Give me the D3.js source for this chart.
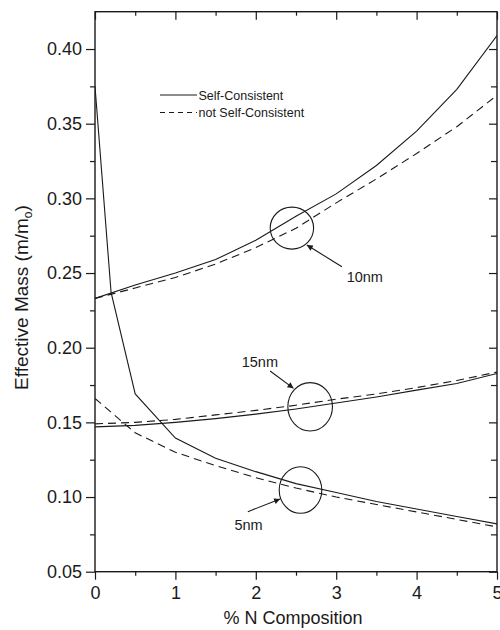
<!DOCTYPE html>
<html><head><meta charset="utf-8">
<script src="https://cdn.jsdelivr.net/npm/d3@7"></script>
<style>body{margin:0;background:#fff}svg{display:block}</style>
</head><body><svg id="c" width="500" height="630"></svg>
<script>
const xs = [0,0.5,1,1.5,2,2.5,3,3.5,4,4.5,5];
const xs5 = [0,0.2,0.5,1,1.5,2,2.5,3,3.5,4,4.5,5];
const sc10 = [0.233,0.242,0.250,0.259,0.272,0.288,0.303,0.322,0.345,0.373,0.409];
const nsc10 = [0.233,0.240,0.247,0.256,0.267,0.280,0.297,0.313,0.330,0.348,0.369];
const sc5 = [0.375,0.237,0.169,0.1395,0.126,0.117,0.109,0.103,0.097,0.092,0.087,0.082];
const nsc5 = [0.166,0.143,0.130,0.121,0.113,0.106,0.100,0.095,0.090,0.085,0.080];
const sc15 = [0.147,0.148,0.150,0.1525,0.1555,0.159,0.163,0.167,0.1716,0.176,0.1827];
const nsc15 = [0.149,0.150,0.152,0.155,0.158,0.1615,0.1655,0.169,0.1733,0.178,0.1837];
const xMajor = [0,1,2,3,4,5];
const xMinor = [0.5,1.5,2.5,3.5,4.5];
const yMajor = [0.05,0.10,0.15,0.20,0.25,0.30,0.35,0.40];
const yMinor = [0.075,0.125,0.175,0.225,0.275,0.325,0.375,0.425];
const legendLabels = ["Self-Consistent","not Self-Consistent"];
const annLabels = ["10nm","15nm","5nm"];
const annCircle = [[2.449,0.2801],[2.676,0.1604],[2.556,0.1047]];
const annText = [[3.13,0.2441],[1.825,0.1873],[1.734,0.0779]];
const annFrom = [[3.071,0.2542],[2.178,0.1844],[1.901,0.0902]];
const annTo = [[2.635,0.2688],[2.469,0.1728],[2.303,0.0987]];

const svg = d3.select("#c");
const font = "'Liberation Sans', Arial, Helvetica, sans-serif";
const L=95, R=497, T=11.7, B=571.7;
const x = d3.scaleLinear().domain([0,5]).range([L,R]);
const y = d3.scaleLinear().domain([0.05,0.425]).range([B,T]);
const ink = "#1a1a1a";

svg.append("defs").append("marker").attr("id","ah").attr("viewBox","0 0 10 10")
  .attr("refX",10).attr("refY",5).attr("markerWidth",9).attr("markerHeight",6)
  .attr("markerUnits","userSpaceOnUse").attr("orient","auto")
  .append("path").attr("d","M0,0L10,5L0,10Z").attr("fill",ink);

function styleAxis(g){
  g.select(".domain").remove();
  g.selectAll("line").attr("stroke",ink).attr("stroke-width",1.2);
  g.selectAll("text").attr("font-family",font).attr("fill",ink);
}
// bottom
svg.append("g").attr("transform",`translate(0,${B})`)
  .call(d3.axisBottom(x).tickValues(xMajor).tickSize(8).tickPadding(7).tickFormat(d3.format("d")))
  .call(styleAxis).call(g=>g.selectAll("text").attr("font-size",18));
svg.append("g").attr("transform",`translate(0,${B})`)
  .call(d3.axisBottom(x).tickValues(xMinor).tickSize(4).tickFormat(""))
  .call(styleAxis);
// top
svg.append("g").attr("transform",`translate(0,${T})`)
  .call(d3.axisTop(x).tickValues(xMajor).tickSize(-8).tickFormat(""))
  .call(styleAxis);
svg.append("g").attr("transform",`translate(0,${T})`)
  .call(d3.axisTop(x).tickValues(xMinor).tickSize(-4).tickFormat(""))
  .call(styleAxis);
// left
svg.append("g").attr("transform",`translate(${L},0)`)
  .call(d3.axisLeft(y).tickValues(yMajor).tickSize(9).tickPadding(4).tickFormat(d3.format(".2f")))
  .call(styleAxis).call(g=>g.selectAll("text").attr("font-size",18));
svg.append("g").attr("transform",`translate(${L},0)`)
  .call(d3.axisLeft(y).tickValues(yMinor.filter(v=>v<0.42)).tickSize(5).tickFormat(""))
  .call(styleAxis);
// right
svg.append("g").attr("transform",`translate(${R},0)`)
  .call(d3.axisRight(y).tickValues(yMajor).tickSize(-8).tickFormat(""))
  .call(styleAxis);
svg.append("g").attr("transform",`translate(${R},0)`)
  .call(d3.axisRight(y).tickValues(yMinor.filter(v=>v<0.42)).tickSize(-6).tickFormat(""))
  .call(styleAxis);
// frame
svg.append("rect").attr("x",L).attr("y",T).attr("width",R-L).attr("height",B-T)
  .attr("fill","none").attr("stroke",ink).attr("stroke-width",1.4);

// curves
const line = d3.line().x(d=>x(d[0])).y(d=>y(d[1]));
const series = [
  {xv:xs, yv:sc10, dash:null},
  {xv:xs, yv:nsc10, dash:"8,5"},
  {xv:xs5, yv:sc5, dash:null},
  {xv:xs, yv:nsc5, dash:"8,5"},
  {xv:xs, yv:sc15, dash:null},
  {xv:xs, yv:nsc15, dash:"8,5"}
];
const clip = svg.append("clipPath").attr("id","pc").append("rect")
  .attr("x",L).attr("y",T).attr("width",R-L).attr("height",B-T);
svg.append("g").attr("clip-path","url(#pc)").selectAll("path").data(series).join("path")
  .attr("d",s=>line(s.xv.map((v,i)=>[v,s.yv[i]])))
  .attr("fill","none").attr("stroke",ink).attr("stroke-width",1.1)
  .attr("stroke-dasharray",s=>s.dash);

// legend
const lg = svg.append("g");
[0,1].forEach(i=>{
  const yy = 95 + i*17.5;
  lg.append("line").attr("x1",160).attr("x2",197).attr("y1",yy).attr("y2",yy)
    .attr("stroke",ink).attr("stroke-width",1.1).attr("stroke-dasharray",i?"5,4":null);
  lg.append("text").attr("x",198.5).attr("y",yy+4.5).text(legendLabels[i])
    .attr("font-family",font).attr("font-size",12.5).attr("fill",ink);
});

// annotations
const rx = [21.7,22.3,21.3], ry = [21,24.2,23.3];
annLabels.forEach((lab,i)=>{
  svg.append("ellipse").attr("cx",x(annCircle[i][0])).attr("cy",y(annCircle[i][1]))
    .attr("rx",rx[i]).attr("ry",ry[i]).attr("fill","none").attr("stroke",ink).attr("stroke-width",1.1);
  svg.append("line").attr("x1",x(annFrom[i][0])).attr("y1",y(annFrom[i][1]))
    .attr("x2",x(annTo[i][0])).attr("y2",y(annTo[i][1]))
    .attr("stroke",ink).attr("stroke-width",1.1).attr("marker-end","url(#ah)");
  svg.append("text").attr("x",x(annText[i][0])).attr("y",y(annText[i][1])).text(lab)
    .attr("font-family",font).attr("font-size",14.5).attr("fill",ink);
});

// axis titles
svg.append("text").attr("x",(L+R)/2 - 3).attr("y",624).attr("text-anchor","middle")
  .attr("font-family",font).attr("font-size",18).attr("fill",ink).text("% N Composition");
const yt = svg.append("text").attr("transform","translate(28,297.5) rotate(-90)")
  .attr("text-anchor","middle").attr("font-family",font).attr("font-size",19).attr("fill",ink);
yt.append("tspan").text("Effective Mass (m/m");
yt.append("tspan").attr("font-size",12).attr("dy",4).text("o");
yt.append("tspan").attr("dy",-4).text(")");
</script></body></html>
